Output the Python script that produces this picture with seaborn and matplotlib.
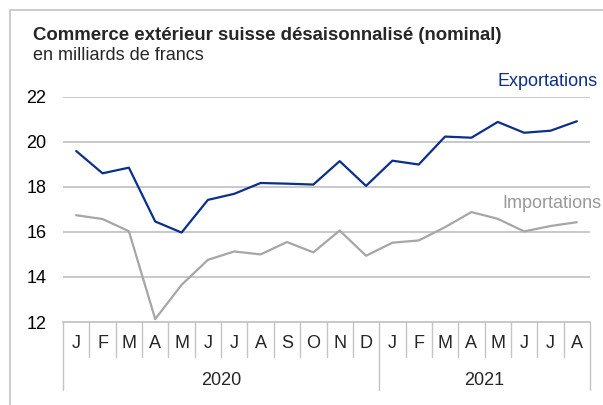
import seaborn as sns
import matplotlib.pyplot as plt
import pandas as pd
import numpy as np
from matplotlib.patches import Rectangle

# data (billions CHF, seasonally adjusted)
months = ['J', 'F', 'M', 'A', 'M', 'J', 'J', 'A', 'S', 'O', 'N', 'D',
          'J', 'F', 'M', 'A', 'M', 'J', 'J', 'A']
years = ['2020', '2021']
year_len = [12, 8]
exports = [19.59, 18.60, 18.85, 16.46, 15.97, 17.42, 17.69, 18.17, 18.14, 18.10,
           19.14, 18.04, 19.16, 18.99, 20.23, 20.18, 20.88, 20.40, 20.49, 20.91]
imports = [16.74, 16.57, 16.03, 12.13, 13.65, 14.76, 15.13, 15.00, 15.55, 15.09,
           16.06, 14.94, 15.52, 15.62, 16.21, 16.88, 16.58, 16.02, 16.26, 16.43]

df = pd.DataFrame({'idx': np.arange(len(months)), 'Exportations': exports, 'Importations': imports})

sns.set_theme(style="white")
plt.rcParams['font.family'] = ['Liberation Sans', 'DejaVu Sans']

fig = plt.figure(figsize=(6.03, 4.05), dpi=100)
ax = fig.add_axes([63 / 603, 1 - 322 / 405, (590 - 63) / 603, (322 - 96.7) / 405])

navy = '#0b2f8a'
grey = '#a6a6a6'
gridc = '#c4c4c4'
fs = 13

sns.lineplot(data=df, x='idx', y='Exportations', color=navy, lw=1.6, ax=ax)
sns.lineplot(data=df, x='idx', y='Importations', color=grey, lw=1.6, ax=ax)

ax.set_xlim(-0.5, len(months) - 0.5)
ax.set_ylim(12, 22)
ax.set_yticks([12, 14, 16, 18, 20, 22])
for y in [14, 16, 18, 20, 22]:
    ax.axhline(y, color=gridc, lw=1.3, zorder=0)
for s in ['top', 'right', 'left']:
    ax.spines[s].set_visible(False)
ax.spines['bottom'].set_color(gridc)
ax.spines['bottom'].set_linewidth(1.3)
ax.set_xticks([])
ax.set_xlabel('')
ax.set_ylabel('')
ax.tick_params(axis='y', length=0, pad=12, labelsize=fs, labelcolor='black')

# two-level category axis
trans = ax.get_xaxis_transform()
for i, m in enumerate(months):
    ax.text(i, -0.095, m, transform=trans, ha='center', va='center', fontsize=fs)
bounds = np.cumsum([0] + year_len)
for b in range(len(months) + 1):
    bottom = -0.30 if b in bounds else -0.155
    ax.plot([b - 0.5, b - 0.5], [0, bottom], transform=trans, color=gridc,
            lw=1, clip_on=False)
for k, yr in enumerate(years):
    mid = (bounds[k] + bounds[k + 1] - 1) / 2
    ax.text(mid, -0.26, yr, transform=trans, ha='center', va='center', fontsize=fs)

# series labels
fig.text(598 / 603, 1 - 81 / 405, 'Exportations', color=navy, ha='right', va='center', fontsize=fs)
fig.text(602 / 603, 1 - 204 / 405, 'Importations', color='#999999', ha='right', va='center', fontsize=fs)

# titles
fig.text(33 / 603, 1 - 35 / 405, 'Commerce extérieur suisse désaisonnalisé (nominal)',
         fontsize=13.4, fontweight='bold', va='center')
fig.text(33 / 603, 1 - 56 / 405, 'en milliards de francs', fontsize=13, va='center')

# frame
fig.patches.append(Rectangle((10 / 603, -0.1), 1.2, 1 - 10 / 405 + 0.1, transform=fig.transFigure,
                             fill=False, edgecolor='#c8c8c8', lw=1.3))

fig.savefig('out.png', dpi=100)
